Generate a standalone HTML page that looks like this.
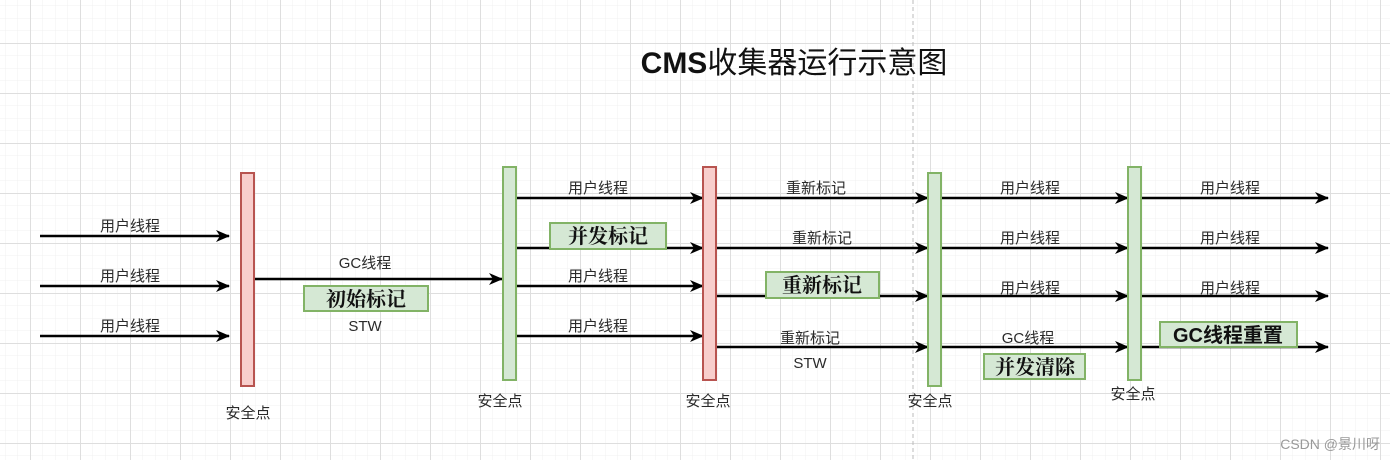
<!DOCTYPE html>
<html><head><meta charset="utf-8"><style>
html,body{margin:0;padding:0;background:#fff;}
svg{display:block;}
text{font-family:"Liberation Sans","Noto Sans CJK SC",sans-serif;fill:#2a2a2a;}
.l{font-size:15px;text-anchor:middle;}
.b{font-family:"Noto Serif CJK SC","Liberation Serif",serif;font-size:20px;font-weight:bold;text-anchor:middle;fill:#111;}
</style></head><body>
<svg width="1390" height="460" viewBox="0 0 1390 460" xmlns="http://www.w3.org/2000/svg">
<defs>
<pattern id="mn" x="30" y="43" width="12.5" height="12.5" patternUnits="userSpaceOnUse">
<path d="M0 0H12.5M0 0V12.5" stroke="#f0f0f0" stroke-width="1" fill="none"/>
</pattern>
<pattern id="mj" x="30" y="43" width="50" height="50" patternUnits="userSpaceOnUse">
<path d="M0 0.5H50M0.5 0V50" stroke="#dedede" stroke-width="1" fill="none"/>
</pattern>
<marker id="a" markerWidth="14" markerHeight="12" refX="13" refY="6" orient="auto" markerUnits="userSpaceOnUse">
<path d="M0 0L14 6L0 12L4 6Z" fill="#000"/>
</marker>
</defs>
<rect width="1390" height="460" fill="url(#mn)"/>
<rect width="1390" height="460" fill="url(#mj)"/>
<line x1="913" y1="0" x2="913" y2="460" stroke="#bbb" stroke-dasharray="4 3"/>

<text x="794" y="73" text-anchor="middle" style="font-size:30px;fill:#111"><tspan font-weight="bold">CMS</tspan>收集器运行示意图</text>

<g stroke="#000" stroke-width="2.5" marker-end="url(#a)">
<line x1="40" y1="236" x2="229" y2="236"/>
<line x1="40" y1="286" x2="229" y2="286"/>
<line x1="40" y1="336" x2="229" y2="336"/>
<line x1="254" y1="279" x2="502" y2="279"/>
<line x1="516" y1="198" x2="703" y2="198"/>
<line x1="516" y1="248" x2="703" y2="248"/>
<line x1="516" y1="286" x2="703" y2="286"/>
<line x1="516" y1="336" x2="703" y2="336"/>
<line x1="716" y1="198" x2="928" y2="198"/>
<line x1="716" y1="248" x2="928" y2="248"/>
<line x1="716" y1="296" x2="928" y2="296"/>
<line x1="716" y1="347" x2="928" y2="347"/>
<line x1="941" y1="198" x2="1128" y2="198"/>
<line x1="941" y1="248" x2="1128" y2="248"/>
<line x1="941" y1="296" x2="1128" y2="296"/>
<line x1="941" y1="347" x2="1128" y2="347"/>
<line x1="1141" y1="198" x2="1328" y2="198"/>
<line x1="1141" y1="248" x2="1328" y2="248"/>
<line x1="1141" y1="296" x2="1328" y2="296"/>
<line x1="1141" y1="347" x2="1328" y2="347"/>
</g>

<rect x="241" y="173" width="13" height="213" fill="#f8cecc" stroke="#b85450" stroke-width="2"/>
<rect x="503" y="167" width="13" height="213" fill="#d5e8d4" stroke="#82b366" stroke-width="2"/>
<rect x="703" y="167" width="13" height="213" fill="#f8cecc" stroke="#b85450" stroke-width="2"/>
<rect x="928" y="173" width="13" height="213" fill="#d5e8d4" stroke="#82b366" stroke-width="2"/>
<rect x="1128" y="167" width="13" height="213" fill="#d5e8d4" stroke="#82b366" stroke-width="2"/>

<g fill="#d5e8d4" stroke="#82b366" stroke-width="2">
<rect x="304" y="286" width="124" height="25"/>
<rect x="550" y="223" width="116" height="26"/>
<rect x="766" y="272" width="113" height="26"/>
<rect x="984" y="354" width="101" height="25"/>
<rect x="1160" y="322" width="137" height="25"/>
</g>
<text class="b" x="366" y="306">初始标记</text>
<text class="b" x="608" y="243">并发标记</text>
<text class="b" x="822" y="292">重新标记</text>
<text class="b" x="1035" y="374">并发清除</text>
<text class="b" x="1228" y="342" style="font-family:'Liberation Sans','Noto Sans CJK SC',sans-serif">GC线程重置</text>

<g>
<text class="l" x="130" y="231">用户线程</text>
<text class="l" x="130" y="281">用户线程</text>
<text class="l" x="130" y="331">用户线程</text>
<text class="l" x="365" y="268">GC线程</text>
<text class="l" x="365" y="331">STW</text>
<text class="l" x="598" y="193">用户线程</text>
<text class="l" x="598" y="281">用户线程</text>
<text class="l" x="598" y="331">用户线程</text>
<text class="l" x="816" y="193">重新标记</text>
<text class="l" x="822" y="243">重新标记</text>
<text class="l" x="810" y="343">重新标记</text>
<text class="l" x="810" y="368">STW</text>
<text class="l" x="1030" y="193">用户线程</text>
<text class="l" x="1030" y="243">用户线程</text>
<text class="l" x="1030" y="293">用户线程</text>
<text class="l" x="1028" y="343">GC线程</text>
<text class="l" x="1230" y="193">用户线程</text>
<text class="l" x="1230" y="243">用户线程</text>
<text class="l" x="1230" y="293">用户线程</text>
<text class="l" x="248" y="418">安全点</text>
<text class="l" x="500" y="406">安全点</text>
<text class="l" x="708" y="406">安全点</text>
<text class="l" x="930" y="406">安全点</text>
<text class="l" x="1133" y="399">安全点</text>
</g>
<text x="1380" y="449" text-anchor="end" style="font-size:14px;fill:#999">CSDN @景川呀</text>
</svg>
</body></html>
